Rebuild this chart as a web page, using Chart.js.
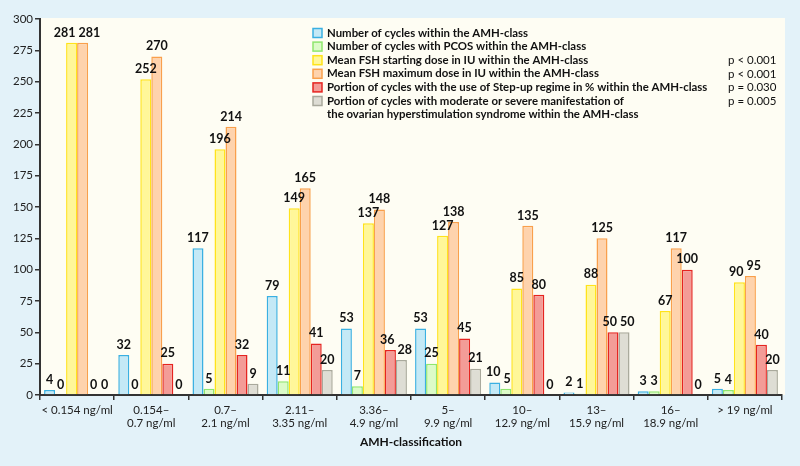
<!DOCTYPE html>
<html>
<head>
<meta charset="utf-8">
<script src="https://cdn.jsdelivr.net/npm/chart.js@4.4.1/dist/chart.umd.min.js"></script>
<style>
  html, body { margin: 0; padding: 0; background: #e3f2f9; }
  #wrap { width: 800px; height: 466px; position: relative; }
</style>
</head>
<body>
<div id="wrap"><canvas id="amhChart" width="800" height="466"></canvas></div>
<script>
// AMH classes
const categories = [
  ["< 0.154 ng/ml"],
  ["0.154–", "0.7 ng/ml"],
  ["0.7–", "2.1 ng/ml"],
  ["2.11–", "3.35 ng/ml"],
  ["3.36–", "4.9 ng/ml"],
  ["5–", "9.9 ng/ml"],
  ["10–", "12.9 ng/ml"],
  ["13–", "15.9 ng/ml"],
  ["16–", "18.9 ng/ml"],
  ["> 19 ng/ml"]
];

const cyclesCount   = [4, 32, 117, 79, 53, 53, 10, 2, 3, 5];
const pcosCount     = [0, 0, 5, 11, 7, 25, 5, 1, 3, 4];
const fshStartDose  = [281, 252, 196, 149, 137, 127, 85, 88, 67, 90];
const fshMaxDose    = [281, 270, 214, 165, 148, 138, 135, 125, 117, 95];
const stepUpPercent = [0, 25, 32, 41, 36, 45, 80, 50, 100, 40];
const ohssPercent   = [0, 0, 9, 20, 28, 21, 0, 50, 0, 20];

const seriesNames = [
  ["Number of cycles within the AMH-class"],
  ["Number of cycles with PCOS within the AMH-class"],
  ["Mean FSH starting dose in IU within the AMH-class"],
  ["Mean FSH maximum dose in IU within the AMH-class"],
  ["Portion of cycles with the use of Step-up regime in % within the AMH-class"],
  ["Portion of cycles with moderate or severe manifestation of", "the ovarian hyperstimulation syndrome within the AMH-class"]
];
const pValues = ["", "", "p < 0.001", "p < 0.001", "p = 0.030", "p = 0.005"];

const yTicks = [0, 25, 50, 75, 100, 125, 150, 175, 200, 225, 250, 275, 300];

const fills   = ["#c4e9f6", "#dcfbc8", "#fff799", "#fed3ad", "#f39c97", "#deddd4"];
const borders = ["#3ab0e2", "#8fe66e", "#ffe31a", "#f9a04c", "#e52420", "#a9a99c"];

const FONT = "Lato, 'Open Sans', sans-serif";

// cream panel behind plot + legend
const panelBg = {
  id: "panelBg",
  beforeDraw(chart) {
    const { ctx, chartArea } = chart;
    ctx.save();
    ctx.fillStyle = "#fefdf3";
    ctx.fillRect(chartArea.left, chartArea.top - 1, 785 - chartArea.left, chartArea.bottom - chartArea.top + 1);
    ctx.restore();
  }
};

// value labels above bars, pushed apart when they collide
const barValues = {
  id: "barValues",
  afterDatasetsDraw(chart) {
    const { ctx } = chart;
    ctx.save();
    ctx.font = "bold 12.5px " + FONT;
    ctx.fillStyle = "#111";
    ctx.textAlign = "center";
    ctx.textBaseline = "bottom";
    const n = chart.data.labels.length;
    for (let i = 0; i < n; i++) {
      const boxes = [];
      chart.data.datasets.forEach((ds, d) => {
        const bar = chart.getDatasetMeta(d).data[i];
        const txt = String(ds.data[i]);
        const w = ctx.measureText(txt).width;
        boxes.push({ txt, x: bar.x, y: bar.y - 4, w });
      });
      for (let pass = 0; pass < 3; pass++) {
        for (let k = 1; k < boxes.length; k++) {
          const a = boxes[k - 1], b = boxes[k];
          if (Math.abs(a.y - b.y) < 13) {
            const gap = (b.x - b.w / 2) - (a.x + a.w / 2);
            if (gap < 3) {
              const s = (3 - gap) / 2;
              a.x -= s;
              b.x += s;
            }
          }
        }
      }
      boxes.forEach(b => ctx.fillText(b.txt, b.x, b.y));
    }
    ctx.restore();
  }
};

// legend with p-values
const sideLegend = {
  id: "sideLegend",
  afterDraw(chart) {
    const { ctx } = chart;
    ctx.save();
    ctx.textBaseline = "middle";
    let y = 33;
    seriesNames.forEach((lines, i) => {
      ctx.fillStyle = fills[i];
      ctx.fillRect(313, y - 4.5, 9, 9);
      ctx.strokeStyle = borders[i];
      ctx.lineWidth = 1.5;
      ctx.strokeRect(313, y - 4.5, 9, 9);
      ctx.fillStyle = "#111";
      ctx.font = "bold 11.4px " + FONT;
      lines.forEach((ln, j) => ctx.fillText(ln, 327, y + j * 13.6));
      if (pValues[i]) {
        ctx.font = "11.5px " + FONT;
        ctx.fillText(pValues[i], 728, y);
      }
      y += 13.6;
    });
    ctx.restore();
  }
};

new Chart(document.getElementById("amhChart"), {
  type: "bar",
  data: {
    labels: categories,
    datasets: seriesNames.map((name, i) => ({
      label: name.join(" "),
      data: [cyclesCount, pcosCount, fshStartDose, fshMaxDose, stepUpPercent, ohssPercent][i],
      backgroundColor: fills[i],
      borderColor: borders[i],
      borderWidth: 1.5,
      borderSkipped: "bottom",
      categoryPercentage: 0.89,
      barPercentage: 1.0
    }))
  },
  options: {
    responsive: false,
    animation: false,
    layout: { padding: { top: 19, right: 18, left: 0, bottom: 0 } },
    plugins: {
      legend: { display: false },
      tooltip: { enabled: false }
    },
    scales: {
      x: {
        afterFit: (s) => { s.height = 71; },
        grid: { drawOnChartArea: false, drawTicks: true, tickLength: 5, color: "#333", lineWidth: 1.5, offset: true },
        border: { color: "#333", width: 2 },
        ticks: { color: "#222", padding: 3, font: { family: FONT, size: 11.5 }, maxRotation: 0, autoSkip: false },
        title: {
          display: true,
          text: "AMH-classification",
          color: "#111",
          font: { family: FONT, size: 12, weight: "bold" },
          padding: { top: 0, bottom: 17 }
        }
      },
      y: {
        min: 0,
        max: 300,
        afterFit: (s) => { s.width = 40; },
        afterBuildTicks: (s) => { s.ticks = yTicks.map(v => ({ value: v })); },
        grid: { drawOnChartArea: false, drawTicks: true, tickLength: 5, color: "#333", lineWidth: 1.5 },
        border: { color: "#333", width: 2 },
        ticks: { color: "#222", padding: 2, font: { family: FONT, size: 11.5 } }
      }
    }
  },
  plugins: [panelBg, barValues, sideLegend]
});
</script>
</body>
</html>
